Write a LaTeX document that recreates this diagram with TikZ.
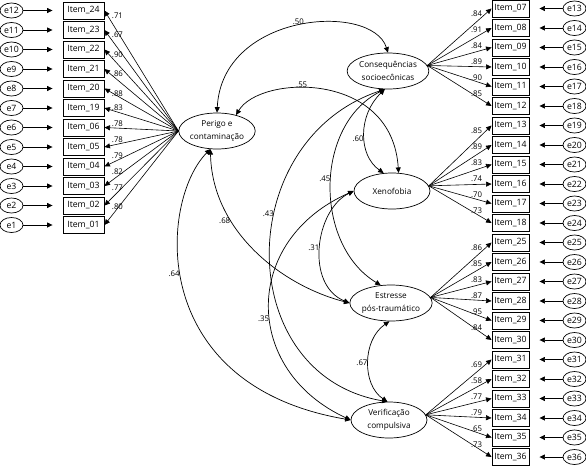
\documentclass[tikz,border=0pt]{standalone}
\usepackage{fontspec}
\setmainfont{Open Sans}
\usetikzlibrary{arrows.meta,shapes.geometric,calc}

\begin{document}
\begin{tikzpicture}[x=1pt,y=-1pt,>={Triangle[length=5.5pt,width=5pt]},
    item/.style={draw,line width=0.9pt,minimum height=17pt,inner sep=0pt,font=\fontsize{8.7}{10}\selectfont},
    err/.style={draw,ellipse,line width=0.7pt,minimum width=23pt,minimum height=15pt,inner sep=0pt,font=\fontsize{8.7}{10}\selectfont},
    latent/.style={draw,ellipse,line width=0.7pt,minimum width=76pt,minimum height=36pt,inner sep=0pt,align=center,font=\fontsize{8.2}{12.5}\selectfont},
    load/.style={->,line width=0.6pt},
    res/.style={->,line width=0.7pt,shorten >=10pt},
    cov/.style={<->,line width=0.7pt},
    lbl/.style={font=\fontsize{7.8}{9}\selectfont,inner sep=0.8pt}]
  \useasboundingbox (0,0) rectangle (586,469);

  % fatores latentes
  \node[latent] (P) at (217,131) {Perigo e\\contaminação};
  \node[latent] (C) at (388,71) {Consequências\\socioecônicas};
  \node[latent] (X) at (392,191) {Xenofobia};
  \node[latent] (E) at (391,303) {Estresse\\pós-traumático};
  \node[latent] (V) at (389,420) {Verificação\\compulsiva};

  % itens do lado esquerdo
  \foreach \itm/\ld [count=\i from 0] in {24/.71,23/.67,22/.90,21/.86,20/.88,19/.83,06/.78,05/.78,04/.79,03/.82,02/.77,01/.80}{
    \pgfmathsetmacro\yy{10.5+19.5*\i}
    \pgfmathtruncatemacro\eno{12-\i}
    \pgfmathsetmacro\ldy{\i<5 ? 5 : max(-18,17-3.5*\i)}
    \node[item,minimum width=41pt] (iL\i) at (83.5,\yy) {Item\_\itm};
    \node[err] (eL\i) at (11.5,\yy) {e\eno};
    \draw[res] (eL\i) -- (iL\i);
    \draw[load] (P.west) -- (iL\i.east);
    \node[lbl] at ($(iL\i.east)+(13,\ldy)$) {\ld};
  }

  % itens do lado direito
  \foreach \itm/\ld/\lat [count=\k from 0] in {07/.84/C,08/.91/C,09/.84/C,10/.89/C,11/.90/C,12/.85/C,
      13/.85/X,14/.89/X,15/.83/X,16/.74/X,17/.70/X,18/.73/X,
      25/.86/E,26/.85/E,27/.83/E,28/.87/E,29/.95/E,30/.84/E,
      31/.69/V,32/.58/V,33/.77/V,34/.79/V,35/.65/V,36/.73/V}{
    \pgfmathsetmacro\yy{8.5+19.5*\k}
    \pgfmathtruncatemacro\eno{13+\k}
    \pgfmathsetmacro\ldy{5-3.4*mod(\k,6)}
    \node[item,minimum width=37pt] (iR\k) at (510.5,\yy) {Item\_\itm};
    \node[err] (eR\k) at (574.5,\yy) {e\eno};
    \draw[res] (eR\k) -- (iR\k);
    \draw[load] (\lat.8) -- (iR\k.west);
    \node[lbl] at ($(iR\k.west)+(-15,\ldy)$) {\ld};
  }

  % covariancias
  \draw[cov] (P.north) .. controls (222,12) and (372,2) .. (C.north) node[lbl,pos=0.5,above] {.50};
  \draw[cov] (P.40) .. controls (260,75) and (392,70) .. (X.70) node[lbl,pos=0.4,above] {.55};
  \draw[cov] (C.260) .. controls (358,115) and (358,155) .. (X.115) node[lbl,pos=0.55,left] {.60};
  \draw[cov] (C.260) .. controls (314,125) and (314,245) .. (E.120) node[lbl,pos=0.47,left] {.45};
  \draw[cov] (C.260) .. controls (232,140) and (232,375) .. (V.95) node[lbl,pos=0.4,left] {.43};
  \draw[cov] (P.250) .. controls (212,230) and (280,285) .. (E.west) node[lbl,pos=0.33,left] {.68};
  \draw[cov] (P.250) .. controls (160,200) and (145,385) .. (V.west) node[lbl,pos=0.45,left] {.64};
  \draw[cov] (X.west) .. controls (315,210) and (305,285) .. (E.west) node[lbl,pos=0.5,left] {.31};
  \draw[cov] (X.west) .. controls (242,240) and (242,370) .. (V.west) node[lbl,pos=0.55,left] {.35};
  \draw[cov] (E.265) .. controls (362,340) and (362,385) .. (V.95) node[lbl,pos=0.5,left] {.67};
\end{tikzpicture}
\end{document}
